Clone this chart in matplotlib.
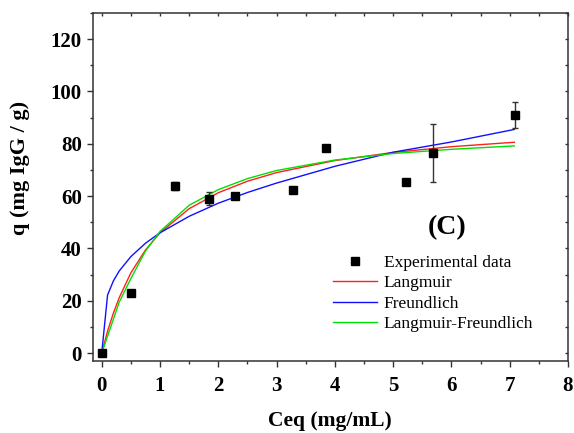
import matplotlib
matplotlib.use('Agg')
import matplotlib.pyplot as plt
from matplotlib.ticker import MultipleLocator, NullFormatter

plt.rcParams['font.family'] = 'Liberation Serif'

# datos experimentales
ceq = [0.0, 0.51, 1.265, 1.838, 2.285, 3.275, 3.85, 5.22, 5.69, 7.085]
q_exp = [0.0, 23.1, 63.9, 59.0, 60.1, 62.3, 78.3, 65.5, 76.5, 91.0]
q_err = [0.8, 0.8, 1.6, 2.5, 0.8, 0.8, 0.8, 0.8, 11.2, 4.8]

# curvas de ajuste
c_fit = [0.0, 0.1, 0.2, 0.3, 0.5, 0.75, 1.0, 1.5, 2.0, 2.5, 3.0, 4.0, 5.0, 6.0, 7.08]
q_langmuir = [0.0, 8.4, 15.3, 21.2, 30.7, 39.4, 46.0, 55.2, 61.3, 65.7, 69.0, 73.6, 76.7, 78.9, 80.6]
q_freundlich = [0.0, 22.2, 27.6, 31.4, 36.9, 42.0, 46.0, 52.3, 57.3, 61.4, 65.0, 71.4, 76.8, 80.7, 85.5]
q_lf = [0.0, 6.5, 13.0, 19.5, 28.5, 39.0, 46.5, 56.5, 62.5, 66.7, 69.8, 73.8, 76.3, 77.9, 79.2]

gris = '#333333'

fig = plt.figure(figsize=(5.74, 4.33), dpi=100)
ax = fig.add_axes([0.162, 0.1663, 0.8275, 0.8037])

ax.plot(c_fit, q_langmuir, color='#ff2020', lw=1.0, label='Langmuir')
ax.plot(c_fit, q_freundlich, color='#1010ff', lw=1.0, label='Freundlich')
ax.plot(c_fit, q_lf, color='#00e000', lw=1.0, label='Langmuir-Freundlich')
ax.errorbar(ceq, q_exp, yerr=q_err, fmt='none', ecolor=gris, elinewidth=1.0,
            capsize=2.5, capthick=1.0, zorder=4)
ax.plot(ceq, q_exp, 's', color='black', markersize=6, zorder=5, label='Experimental data')

ax.set_xlim(-0.15, 8)
ax.set_ylim(-3, 130)
ax.xaxis.set_major_locator(MultipleLocator(1))
ax.xaxis.set_minor_locator(MultipleLocator(0.5))
ax.yaxis.set_major_locator(MultipleLocator(20))
ax.yaxis.set_minor_locator(MultipleLocator(10))

for s in ax.spines.values():
    s.set_color(gris)
    s.set_linewidth(1.1)

ax.tick_params(axis='both', which='major', direction='out', length=4, width=1.0,
               color=gris, labelsize=15)
ax.tick_params(axis='x', which='major', pad=6.5)
ax.tick_params(axis='y', which='major', pad=4)
ax.tick_params(axis='both', which='minor', direction='out', length=2.5, width=1.0,
               color=gris)
for lbl in ax.get_xticklabels() + ax.get_yticklabels():
    lbl.set_fontweight('bold')

# marcas pequeñas arriba y a la derecha
arriba = ax.secondary_xaxis('top')
arriba.xaxis.set_major_locator(MultipleLocator(0.5))
arriba.xaxis.set_major_formatter(NullFormatter())
arriba.tick_params(direction='in', length=2, width=1.0, color=gris)
arriba.spines['top'].set_visible(False)
derecha = ax.secondary_yaxis('right')
derecha.yaxis.set_major_locator(MultipleLocator(10))
derecha.yaxis.set_major_formatter(NullFormatter())
derecha.tick_params(direction='in', length=2, width=1.0, color=gris)
derecha.spines['right'].set_visible(False)

fig.text(330 / 574, 1 - 421 / 433, 'Ceq (mg/mL)', fontsize=15.5, fontweight='bold',
         ha='center', va='center')
fig.text(20.5 / 574, 1 - 167.5 / 433, 'q (mg IgG / g)', fontsize=16, fontweight='bold',
         ha='center', va='center', rotation=90)

ax.text(5.92, 47.9, '(C)', fontsize=20, fontweight='bold', ha='center', va='center')

handles, labels = ax.get_legend_handles_labels()
orden = [3, 0, 1, 2]
ax.legend([handles[i] for i in orden], [labels[i] for i in orden],
          loc='upper left', bbox_to_anchor=(0.4875, 0.33), frameon=False,
          fontsize=12.5, numpoints=1, handlelength=2.5, borderpad=0,
          labelspacing=0.25, handletextpad=0.4)

plt.savefig('out.png', dpi=100)
plt.close()
